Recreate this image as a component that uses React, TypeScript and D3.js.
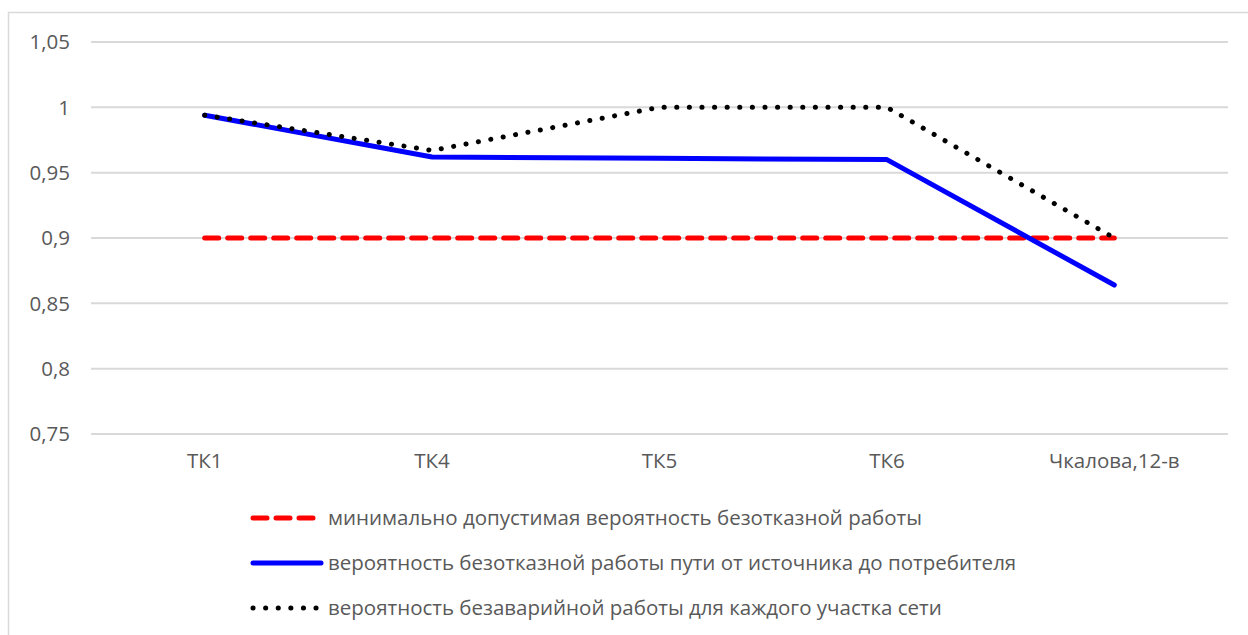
import React from "react";
import * as d3 from "d3";

// chart values
const categories = ["ТК1", "ТК4", "ТК5", "ТК6", "Чкалова,12-в"];
const minAllowed = [0.9, 0.9, 0.9, 0.9, 0.9];
const pathReliability = [0.994, 0.962, 0.961, 0.96, 0.864];
const sectionReliability = [0.994, 0.967, 1.0, 1.0, 0.9];
const yTicks = [0.75, 0.8, 0.85, 0.9, 0.95, 1, 1.05];

const seriesNames = [
  "минимально допустимая вероятность безотказной работы",
  "вероятность безотказной работы пути от источника до потребителя",
  "вероятность безаварийной работы для каждого участка сети",
];

const W = 1248;
const H = 635;
const FONT = "'Open Sans', 'Noto Sans', sans-serif";
const FS = 20.5;

const styles = [
  { color: "#ff0000", width: 5, dash: "14 9", cap: "round" as const },
  { color: "#0000ff", width: 5, dash: undefined, cap: "round" as const },
  { color: "#000000", width: 5, dash: "0.1 12.5", cap: "round" as const },
];

export default function App() {
  const x = d3.scaleBand<string>().domain(categories).range([91, 1228]);
  const y = d3.scaleLinear().domain([0.75, 1.05]).range([434, 42]);

  const line = d3
    .line<number>()
    .x((_, i) => (x(categories[i]) as number) + x.bandwidth() / 2)
    .y((d) => y(d));

  const series = [minAllowed, pathReliability, sectionReliability];
  const fmt = (v: number) => String(v).replace(".", ",");

  return (
    <svg
      width={W}
      height={H}
      style={{ position: "absolute", left: 0, top: 0, background: "#fff" }}
    >
      <rect x={8.5} y={12.5} width={1260} height={640} fill="#fff" stroke="#d9d9d9" strokeWidth={1.5} />

      {yTicks.map((t) => (
        <g key={t}>
          <line x1={x.range()[0]} x2={x.range()[1]} y1={y(t)} y2={y(t)} stroke="#d9d9d9" strokeWidth={2} />
          <text
            x={70}
            y={y(t)}
            dy="0.35em"
            textAnchor="end"
            fontFamily={FONT}
            fontSize={FS}
            fill="#595959"
          >
            {fmt(t)}
          </text>
        </g>
      ))}

      {categories.map((c) => (
        <text
          key={c}
          x={(x(c) as number) + x.bandwidth() / 2}
          y={468}
          textAnchor="middle"
          fontFamily={FONT}
          fontSize={FS}
          fill="#595959"
        >
          {c}
        </text>
      ))}

      {series.map((s, i) => (
        <path
          key={i}
          d={line(s) || ""}
          fill="none"
          stroke={styles[i].color}
          strokeWidth={styles[i].width}
          strokeDasharray={styles[i].dash}
          strokeLinecap={styles[i].cap}
          strokeLinejoin="round"
        />
      ))}

      {seriesNames.map((name, i) => {
        const ly = 518 + i * 45;
        return (
          <g key={name}>
            <line
              x1={253}
              x2={321}
              y1={ly}
              y2={ly}
              stroke={styles[i].color}
              strokeWidth={styles[i].width}
              strokeDasharray={styles[i].dash}
              strokeLinecap={styles[i].cap}
            />
            <text
              x={328}
              y={ly}
              dy="0.35em"
              fontFamily={FONT}
              fontSize={FS}
              fill="#595959"
            >
              {name}
            </text>
          </g>
        );
      })}
    </svg>
  );
}
